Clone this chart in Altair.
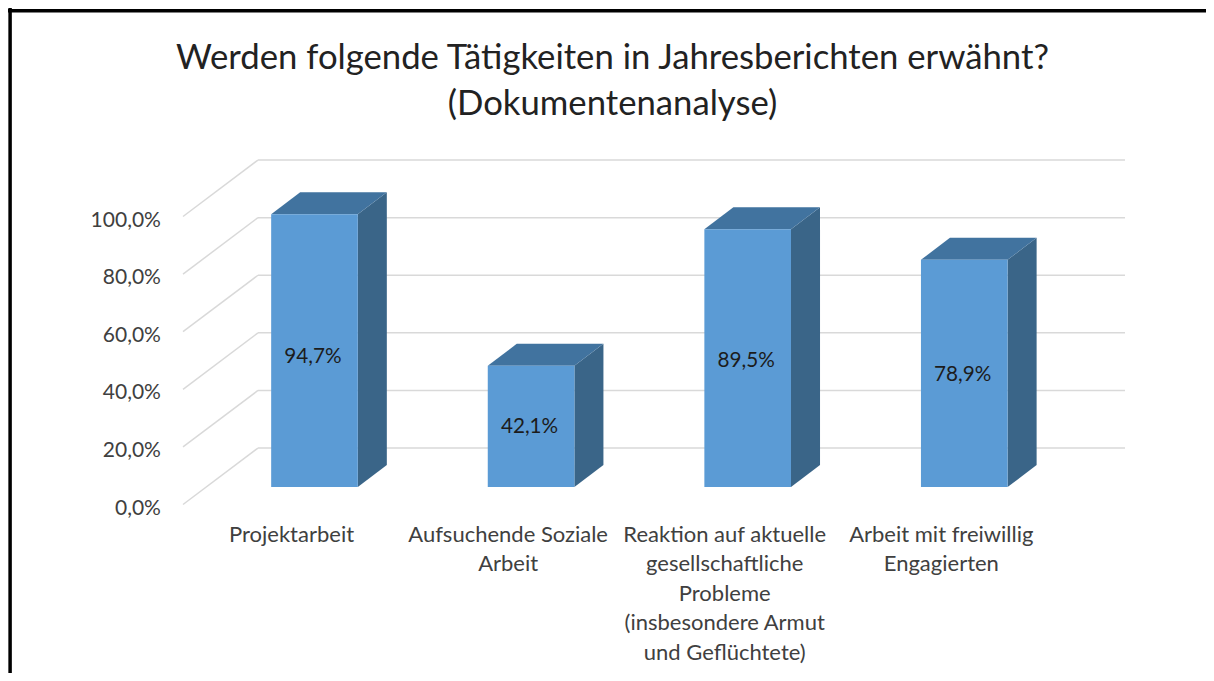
import altair as alt
import pandas as pd

# ---- values ----
categories = [
    "Projektarbeit",
    "Aufsuchende Soziale\nArbeit",
    "Reaktion auf aktuelle\ngesellschaftliche\nProbleme\n(insbesondere Armut\nund Geflüchtete)",
    "Arbeit mit freiwillig\nEngagierten",
]
values = [94.7, 42.1, 89.5, 78.9]
value_labels = ["94,7%", "42,1%", "89,5%", "78,9%"]
value_label_heights = [31.6, 7.3, 30.2, 25.3]
ticks = [0, 20, 40, 60, 80, 100]
tick_labels = ["0,0%", "20,0%", "40,0%", "60,0%", "80,0%", "100,0%"]
title_lines = ["Werden folgende Tätigkeiten in Jahresberichten erwähnt?", "(Dokumentenanalyse)"]

# ---- pseudo-3D construction, in axis units ----
half_width = 0.2
depth_x = 0.134
front_lift = -13.54
back_lift = -5.9
wall_left = -0.261
wall_right = 3.742
floor_left = -0.607
floor_lift = -19.6
tick_label_x = -0.709
tick_label_lift = -21.0
cat_label_x_shift = -0.106
cat_label_y = -26.6
value_label_x_shift = -0.007

x_scale = alt.Scale(domain=[-1.415, 4.116], nice=False, zero=False)
y_scale = alt.Scale(domain=[-78.1, 152.8], nice=False, zero=False)
X = lambda f: alt.X(f, type="quantitative", scale=x_scale, axis=None)
Y = lambda f: alt.Y(f, type="quantitative", scale=y_scale, axis=None, stack=None)

bars = pd.DataFrame({"i": range(4), "v": values, "label": value_labels, "lh": value_label_heights, "cat": categories})
bars["a"] = bars.i - half_width
bars["b"] = bars.i + half_width
bars["top"] = bars.v + front_lift
bars["base"] = front_lift
bars["lx"] = bars.i + value_label_x_shift
bars["cx"] = bars.i + cat_label_x_shift
bars["cy"] = cat_label_y

side_rows, top_rows = [], []
for i, v in enumerate(values):
    a, b = i - half_width, i + half_width
    side_rows += [
        {"i": i, "px": b, "lo": front_lift, "hi": front_lift + v},
        {"i": i, "px": b + depth_x, "lo": back_lift, "hi": back_lift + v},
    ]
    y1, y2 = front_lift + v, back_lift + v
    top_rows += [
        {"i": i, "px": a, "lo": y1, "hi": y1},
        {"i": i, "px": a + depth_x, "lo": y1, "hi": y2},
        {"i": i, "px": b, "lo": y1, "hi": y2},
        {"i": i, "px": b + depth_x, "lo": y2, "hi": y2},
    ]
side = pd.DataFrame(side_rows)
top = pd.DataFrame(top_rows)

grid_h = pd.DataFrame({"t": ticks, "x1": wall_left, "x2": wall_right})
grid_d = pd.DataFrame(
    [{"t": t, "x": floor_left, "y": t + floor_lift} for t in ticks]
    + [{"t": t, "x": wall_left, "y": t} for t in ticks]
)
ytext = pd.DataFrame({"x": tick_label_x, "y": [t + tick_label_lift for t in ticks], "s": tick_labels})

GRID = "#d9d9d9"
FONT = "Lato"

h_lines = alt.Chart(grid_h).mark_rule(color=GRID, strokeWidth=1.5).encode(x=X("x1"), x2="x2", y=Y("t"))
d_lines = alt.Chart(grid_d).mark_line(color=GRID, strokeWidth=1.5).encode(x=X("x"), y=Y("y"), detail="t:N")

front = alt.Chart(bars).mark_rect(color="#5b9bd5").encode(x=X("a"), x2="b", y=Y("top"), y2="base")
side_face = alt.Chart(side).mark_area(color="#3a6588").encode(x=X("px"), y=Y("lo"), y2="hi", detail="i:N")
top_face = alt.Chart(top).mark_area(color="#41739f").encode(x=X("px"), y=Y("lo"), y2="hi", detail="i:N")

val_text = alt.Chart(bars).mark_text(font=FONT, fontSize=20.7, color="#1c1c1c").encode(x=X("lx"), y=Y("lh"), text="label")
tick_text = alt.Chart(ytext).mark_text(font=FONT, fontSize=21, color="#404040", align="right").encode(x=X("x"), y=Y("y"), text="s")
cat_text = alt.Chart(bars).mark_text(
    font=FONT, fontSize=22, color="#404040", lineBreak="\n", lineHeight=29.6, baseline="top"
).encode(x=X("cx"), y=Y("cy"), text="cat")

border_top = alt.Chart(pd.DataFrame({"k": [0]})).mark_rule(color="#000000", strokeWidth=3.5).encode(
    x=alt.value(0), x2=alt.value(1198), y=alt.value(2.8)
)
border_left = alt.Chart(pd.DataFrame({"k": [0]})).mark_rule(color="#000000", strokeWidth=3.5).encode(
    x=alt.value(2.1), y=alt.value(0), y2=alt.value(665)
)

chart = alt.layer(
    h_lines, d_lines, side_face, top_face, front, val_text, tick_text, cat_text, border_top, border_left
).properties(
    width=1198,
    height=665,
    padding=0,
    autosize="none",
    background="white",
    title=alt.TitleParams(
        text=title_lines, font=FONT, fontSize=34.7, fontWeight="normal", color="#222222",
        anchor="middle", frame="group", lineHeight=46, dy=120, dx=5.5,
    ),
).configure_view(stroke=None)

chart.save("out.html", embed_options={"renderer": "svg", "actions": False})
